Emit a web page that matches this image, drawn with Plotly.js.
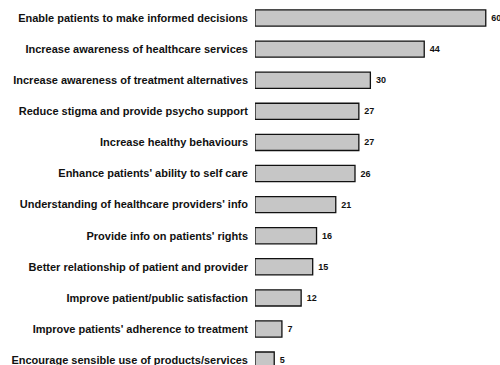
<!DOCTYPE html>
<html>
<head>
<meta charset="utf-8">
<script src="https://cdn.plot.ly/plotly-3.0.1.min.js"></script>
<style>
  html, body { margin: 0; padding: 0; background: #ffffff; overflow: hidden; }
  #wrap { width: 500px; height: 365px; overflow: hidden; }
  #chart { width: 500px; height: 380px; }
</style>
</head>
<body>
<div id="wrap"><div id="chart"></div></div>
<script>
// Perceived benefits of patient information, ranked
const categories = [
  "Enable patients to make informed decisions",
  "Increase awareness of healthcare services",
  "Increase awareness of treatment alternatives",
  "Reduce stigma and provide psycho support",
  "Increase healthy behaviours",
  "Enhance patients' ability to self care",
  "Understanding of healthcare providers' info",
  "Provide info on patients' rights",
  "Better relationship of patient and provider",
  "Improve patient/public satisfaction",
  "Improve patients' adherence to treatment",
  "Encourage sensible use of products/services"
];
const values = [60, 44, 30, 27, 27, 26, 21, 16, 15, 12, 7, 5];

const bars = {
  type: "bar",
  orientation: "h",
  y: categories.map((c, i) => i),
  x: values,
  width: 0.52,
  marker: {
    color: "#c6c6c6",
    line: { color: "#111111", width: 1.3 }
  },
  text: values.map(v => "\u00a0" + v),
  textposition: "outside",
  cliponaxis: false,
  textfont: { family: "Liberation Sans, Arial, sans-serif", size: 9, color: "#111111", weight: "bold" },
  hoverinfo: "skip"
};

// the figure is a little taller than the visible frame, so the last row runs off the bottom edge
const layout = {
  width: 500,
  height: 380,
  margin: { l: 255, r: 0, t: 0, b: 0 },
  paper_bgcolor: "#ffffff",
  plot_bgcolor: "#ffffff",
  showlegend: false,
  xaxis: {
    range: [0, 63.7],
    showgrid: false,
    zeroline: false,
    showline: false,
    showticklabels: false,
    ticks: ""
  },
  yaxis: {
    range: [11.64, -0.58],
    tickmode: "array",
    tickvals: categories.map((c, i) => i),
    ticktext: categories,
    showgrid: false,
    zeroline: false,
    showline: false,
    ticks: "",
    ticklabelstandoff: 6,
    tickfont: { family: "Liberation Sans, Arial, sans-serif", size: 11, color: "#111111", weight: "bold" }
  }
};

Plotly.newPlot("chart", [bars], layout, { displayModeBar: false, staticPlot: true });
</script>
</body>
</html>
